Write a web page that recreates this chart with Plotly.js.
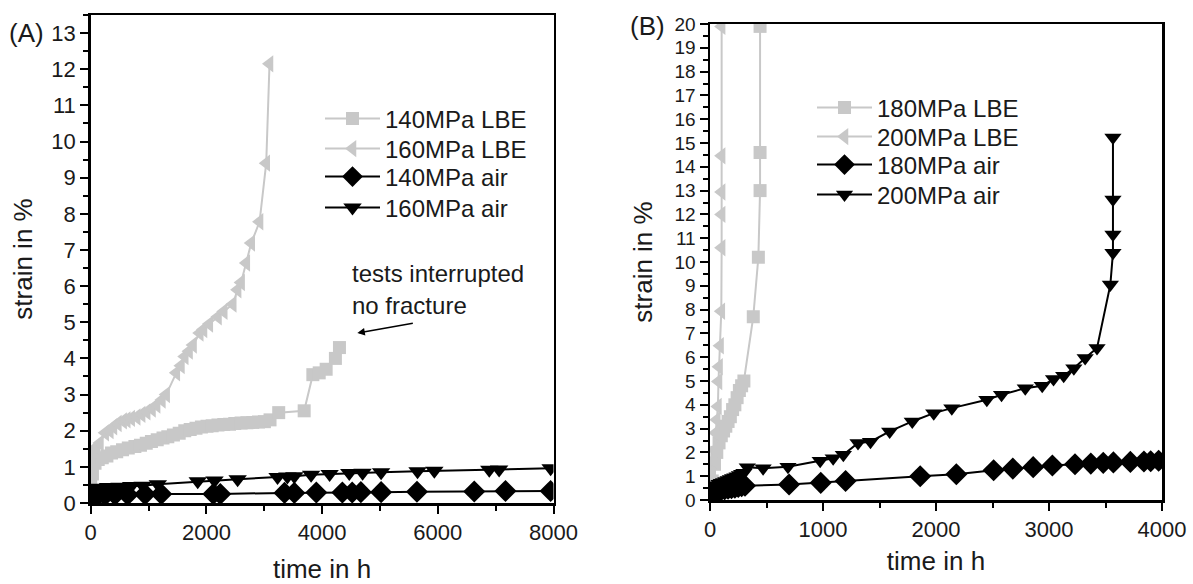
<!DOCTYPE html>
<html><head><meta charset="utf-8">
<script src="https://cdn.plot.ly/plotly-3.0.1.min.js"></script>
<style>html,body{margin:0;padding:0;background:#fff}#chart{width:1193px;height:584px}</style>
</head><body><div id="chart"></div><script>
// ---- Panel A data ----
const a_lbe140_t = [0, 30, 75, 130, 200, 280, 360, 450, 550, 650, 764, 860, 960, 1050, 1150, 1250, 1333, 1430, 1530, 1626, 1720, 1820, 1914, 2010, 2100, 2200, 2300, 2400, 2490, 2600, 2700, 2800, 2900, 3003, 3100, 3250, 3690, 3840, 3950, 4070, 4230, 4300];
const a_lbe140_s = [0.5, 0.8, 1.1, 1.2, 1.25, 1.3, 1.38, 1.42, 1.47, 1.52, 1.56, 1.6, 1.65, 1.7, 1.75, 1.8, 1.83, 1.88, 1.93, 2.0, 2.03, 2.07, 2.1, 2.12, 2.14, 2.16, 2.17, 2.18, 2.2, 2.21, 2.22, 2.23, 2.24, 2.25, 2.3, 2.5, 2.55, 3.55, 3.6, 3.7, 4.0, 4.3];
const a_lbe160_t = [0, 50, 100, 160, 250, 330, 393, 470, 560, 623, 700, 795, 880, 968, 1060, 1140, 1230, 1305, 1480, 1560, 1626, 1700, 1770, 1885, 1950, 2050, 2200, 2300, 2456, 2540, 2600, 2690, 2775, 2919, 3034, 3091];
const a_lbe160_s = [1.4, 1.45, 1.55, 1.66, 1.94, 2.0, 2.11, 2.2, 2.27, 2.3, 2.34, 2.38, 2.45, 2.52, 2.6, 2.71, 2.85, 3.0, 3.6, 3.8, 4.05, 4.2, 4.37, 4.7, 4.8, 4.95, 5.15, 5.3, 5.5, 5.9, 6.1, 6.64, 7.19, 7.78, 9.4, 12.15];
const a_air140_t = [0, 60, 130, 250, 420, 640, 940, 1220, 2120, 2240, 3350, 3520, 3900, 4350, 4520, 4670, 5020, 5640, 6630, 7170, 7950];
const a_air140_s = [0.1, 0.2, 0.22, 0.22, 0.23, 0.23, 0.24, 0.25, 0.25, 0.25, 0.28, 0.28, 0.29, 0.29, 0.29, 0.3, 0.3, 0.31, 0.32, 0.33, 0.33];
const a_air160_t = [0, 60, 150, 300, 500, 700, 900, 1160, 1850, 2140, 2540, 3230, 3400, 3520, 3810, 4130, 4470, 4700, 5020, 5650, 5940, 6890, 7060, 7950];
const a_air160_s = [0.35, 0.4, 0.42, 0.44, 0.45, 0.47, 0.48, 0.52, 0.6, 0.62, 0.66, 0.72, 0.73, 0.74, 0.78, 0.8, 0.83, 0.84, 0.85, 0.88, 0.89, 0.92, 0.93, 0.96];

// ---- Panel B data ----
const b_lbe180_t = [0, 20, 40, 60, 80, 100, 120, 140, 160, 180, 200, 220, 240, 260, 280, 300, 383, 428, 443, 443, 443];
const b_lbe180_s = [0.3, 0.8, 1.5, 2.0, 2.4, 2.7, 2.9, 3.1, 3.3, 3.5, 3.8, 4.0, 4.3, 4.6, 4.8, 5.0, 7.7, 10.2, 13.0, 14.6, 19.9];
const b_lbe200_t = [0, 20, 30, 40, 50, 60, 70, 75, 80, 89, 100, 103, 103, 103, 103, 103];
const b_lbe200_s = [0.56, 1.13, 1.68, 2.1, 2.82, 3.37, 3.93, 4.98, 5.6, 6.48, 7.93, 10.6, 12.0, 12.94, 14.46, 19.9];
const b_air180_t = [0, 20, 40, 60, 80, 100, 130, 160, 190, 220, 250, 280, 310, 700, 980, 1200, 1860, 2180, 2510, 2680, 2860, 3030, 3230, 3370, 3480, 3570, 3720, 3840, 3900, 3970];
const b_air180_s = [0.2, 0.3, 0.35, 0.38, 0.4, 0.42, 0.45, 0.48, 0.5, 0.52, 0.55, 0.58, 0.6, 0.65, 0.72, 0.8, 1.0, 1.08, 1.25, 1.32, 1.38, 1.45, 1.5, 1.53, 1.56, 1.58, 1.6, 1.62, 1.63, 1.65];
const b_air200_t = [0, 20, 40, 60, 80, 100, 120, 140, 160, 180, 200, 220, 240, 260, 280, 300, 330, 470, 690, 975, 1090, 1180, 1310, 1420, 1590, 1790, 1980, 2140, 2450, 2580, 2790, 2940, 3040, 3130, 3220, 3320, 3425, 3543, 3566, 3566, 3566, 3566];
const b_air200_s = [0.3, 0.45, 0.55, 0.62, 0.68, 0.72, 0.76, 0.8, 0.84, 0.88, 0.92, 0.96, 1.0, 1.05, 1.1, 1.15, 1.38, 1.33, 1.4, 1.65, 1.75, 1.9, 2.4, 2.45, 2.88, 3.3, 3.65, 3.86, 4.21, 4.42, 4.7, 4.8, 5.08, 5.22, 5.54, 5.97, 6.39, 9.05, 10.39, 11.16, 12.63, 15.23];

const GRAY = '#c8c8c8';
const BLACK = '#000000';
const FONT = 'Liberation Sans, Arial, sans-serif';
const TXT = '#1a1a1a';
const W = 1193, H = 584;

function tr(x, y, name, color, symbol, size, xa, ya, leg) {
  return {x: x, y: y, name: name, type: 'scatter', mode: 'lines+markers',
    xaxis: xa, yaxis: ya, legend: leg, showlegend: true,
    line: {color: color, width: 2},
    marker: {color: color, symbol: symbol, size: size, line: {width: 0}}};
}

const traces = [
  tr(a_lbe140_t, a_lbe140_s, '140MPa LBE', GRAY, 'square', 13, 'x', 'y', 'legend'),
  tr(a_lbe160_t, a_lbe160_s, '160MPa LBE', GRAY, 'triangle-left', 15, 'x', 'y', 'legend2'),
  tr(a_air140_t, a_air140_s, '140MPa air', BLACK, 'diamond', 17, 'x', 'y', 'legend3'),
  tr(a_air160_t, a_air160_s, '160MPa air', BLACK, 'triangle-down', 16, 'x', 'y', 'legend4'),
  tr(b_lbe180_t, b_lbe180_s, '180MPa LBE', GRAY, 'square', 13, 'x2', 'y2', 'legend5'),
  tr(b_lbe200_t, b_lbe200_s, '200MPa LBE', GRAY, 'triangle-left', 15, 'x2', 'y2', 'legend6'),
  tr(b_air180_t, b_air180_s, '180MPa air', BLACK, 'diamond', 17, 'x2', 'y2', 'legend7'),
  tr(b_air200_t, b_air200_s, '200MPa air', BLACK, 'triangle-down', 15, 'x2', 'y2', 'legend8')
];

function ax(range, dtick, minor, domain, anchor, titleText, standoff, fs) {
  return {domain: domain, range: range, anchor: anchor, tickmode: 'linear', tick0: 0, dtick: dtick,
    ticks: 'outside', ticklen: 8, tickwidth: 2, tickcolor: '#000',
    minor: {dtick: minor, ticklen: 5, tickwidth: 2, tickcolor: '#000', ticks: 'outside', showgrid: false},
    showline: true, linewidth: 2.5, linecolor: '#000', mirror: true, showgrid: false, zeroline: false,
    tickfont: {family: FONT, size: fs, color: TXT},
    title: {text: titleText, font: {family: FONT, size: 26, color: TXT}, standoff: standoff},
    automargin: false, fixedrange: true};
}

function leg(xpx, ypx) {
  return {x: xpx / W, y: 1 - ypx / H, xanchor: 'left', yanchor: 'middle', bgcolor: 'rgba(0,0,0,0)',
    font: {family: FONT, size: 24, color: TXT}, itemwidth: 55, borderwidth: 0, visible: true};
}

const layout = {
  width: W, height: H, margin: {l: 0, r: 0, t: 0, b: 0},
  showlegend: true,
  paper_bgcolor: '#fff', plot_bgcolor: '#fff',
  font: {family: FONT, color: TXT},
  xaxis: ax([0, 8000], 2000, 1000, [90.7 / W, 553.5 / W], 'y', 'time in h', 22, 22),
  yaxis: ax([0, 13.5], 1, 0.5, [(H - 503) / H, (H - 15) / H], 'x', 'strain in %', 11, 22),
  xaxis2: ax([0, 4000], 1000, 500, [710 / W, 1162 / W], 'y2', 'time in h', 11, 22),
  yaxis2: ax([0, 20], 1, 0.5, [(H - 500) / H, (H - 24) / H], 'x2', 'strain in %', 15, 19),
  legend: leg(320, 119), legend2: leg(320, 149), legend3: leg(320, 177), legend4: leg(320, 208),
  legend5: leg(812, 108), legend6: leg(812, 137), legend7: leg(812, 165), legend8: leg(812, 195),
  annotations: [
    {xref: 'paper', yref: 'paper', x: 7 / W, y: 1 - 33 / H, xanchor: 'left', yanchor: 'middle', text: '(A)', showarrow: false, font: {family: FONT, size: 26, color: TXT}},
    {xref: 'paper', yref: 'paper', x: 628 / W, y: 1 - 26 / H, xanchor: 'left', yanchor: 'middle', text: '(B)', showarrow: false, font: {family: FONT, size: 26, color: TXT}},
    {xref: 'paper', yref: 'paper', x: 350 / W, y: 1 - 273 / H, xanchor: 'left', yanchor: 'middle', text: 'tests interrupted', showarrow: false, font: {family: FONT, size: 24, color: TXT}},
    {xref: 'paper', yref: 'paper', x: 350 / W, y: 1 - 305 / H, xanchor: 'left', yanchor: 'middle', text: 'no fracture', showarrow: false, font: {family: FONT, size: 24, color: TXT}},
    {xref: 'x', yref: 'y', x: 4609, y: 4.7, ax: 57, ay: -10, axref: 'pixel', ayref: 'pixel', text: '', showarrow: true, arrowhead: 2, arrowsize: 1, arrowwidth: 1.5, arrowcolor: '#000'}
  ]
};

Plotly.newPlot('chart', traces, layout, {staticPlot: true, displayModeBar: false});
</script></body></html>
